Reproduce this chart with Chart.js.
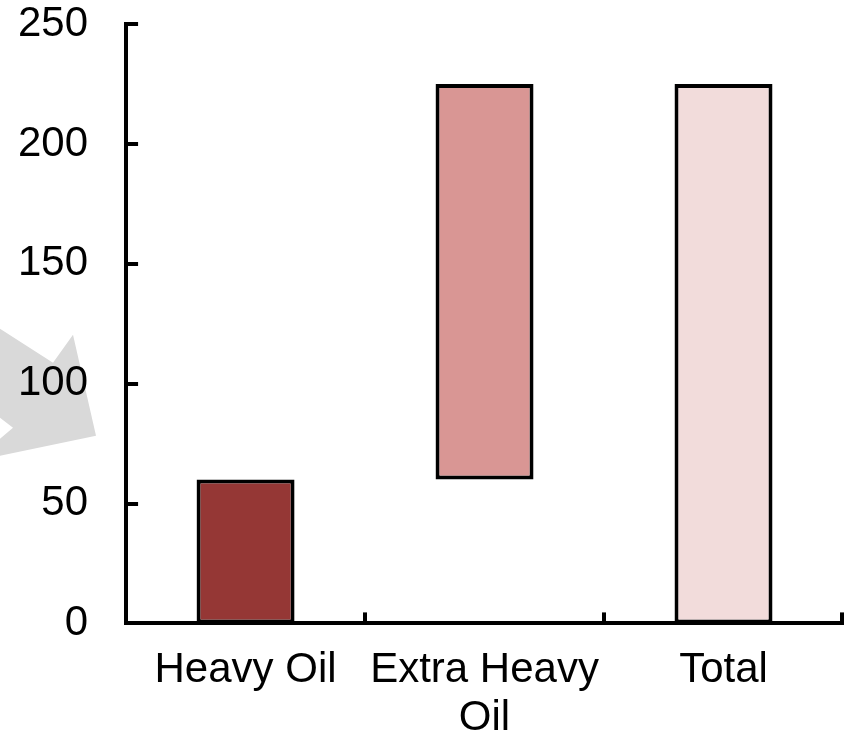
<!DOCTYPE html>
<html>
<head>
<meta charset="utf-8">
<style>
  html, body { margin: 0; padding: 0; background: #ffffff; }
  #wrap { width: 844px; height: 743px; }
</style>
<script src="https://cdn.jsdelivr.net/npm/chart.js@4/dist/chart.umd.min.js"></script>
</head>
<body>
<div id="wrap"><canvas id="chart" width="844" height="743"></canvas></div>
<script>
// Categories (multi-line labels as arrays)
const categories = [['Heavy Oil'], ['Extra Heavy', 'Oil'], ['Total']];
// Waterfall bars: each bar floats from its start to its end value
const barStarts = [0, 60, 0];
const barEnds = [60, 225, 225];
// Y axis range and step
const yMin = 0;
const yMax = 250;
const yStep = 50;

const barColors = ['#953735', '#D99694', '#F2DCDB'];
const FONT = '"Liberation Sans", Arial, Helvetica, sans-serif';
const LINE_W = 4;

// Light grey arrow sitting behind the y-axis labels, anchored to the value-100 line
const arrowPlugin = {
  id: 'arrowBehind',
  beforeDraw(chart) {
    const { ctx, scales: { y } } = chart;
    const oy = y.getPixelForValue(100); // reference line for the shape
    const pts = [
      [0, -55], [53, -21], [73, -49], [96, 52], [0, 72], [0, 55], [13, 44], [0, 34]
    ];
    ctx.save();
    ctx.fillStyle = '#D9D9D9';
    ctx.beginPath();
    pts.forEach((p, i) => {
      if (i === 0) ctx.moveTo(p[0], oy + p[1]);
      else ctx.lineTo(p[0], oy + p[1]);
    });
    ctx.closePath();
    ctx.fill();
    ctx.restore();
  }
};

// Inward-pointing tick marks on both axes
const innerTicksPlugin = {
  id: 'innerTicks',
  afterDraw(chart) {
    const { ctx, chartArea, scales: { x, y } } = chart;
    ctx.save();
    ctx.strokeStyle = '#000000';
    ctx.lineWidth = LINE_W;
    ctx.lineCap = 'butt';
    y.ticks.forEach((t, i) => {
      const py = Math.round(y.getPixelForTick(i));
      ctx.beginPath();
      ctx.moveTo(chartArea.left, py);
      ctx.lineTo(chartArea.left + 12, py);
      ctx.stroke();
    });
    const n = categories.length;
    const w = (chartArea.right - chartArea.left) / n;
    for (let i = 1; i <= n; i++) {
      let px = Math.round(chartArea.left + i * w);
      if (i === n) px = Math.min(px, chart.width - 2);
      ctx.beginPath();
      ctx.moveTo(px, chartArea.bottom);
      ctx.lineTo(px, chartArea.bottom - 11);
      ctx.stroke();
    }
    ctx.restore();
  }
};

new Chart(document.getElementById('chart'), {
  type: 'bar',
  data: {
    labels: categories,
    datasets: [{
      data: barStarts.map((s, i) => [s, barEnds[i]]),
      backgroundColor: barColors,
      borderColor: '#000000',
      borderWidth: LINE_W,
      borderSkipped: false,
      barPercentage: 0.41,
      categoryPercentage: 1.0
    }]
  },
  options: {
    responsive: false,
    animation: false,
    devicePixelRatio: 1,
    layout: { padding: { left: 18, right: 1, top: 0, bottom: 0 } },
    plugins: {
      legend: { display: false },
      tooltip: { enabled: false }
    },
    scales: {
      x: {
        // hidden grid keeps its tick length as spacing between axis and labels
        grid: { display: false, drawTicks: true, tickLength: 23 },
        border: { display: true, color: '#000000', width: LINE_W },
        ticks: {
          color: '#000000',
          padding: 0,
          maxRotation: 0,
          autoSkip: false,
          font: { family: FONT, size: 42, lineHeight: 1.15 }
        }
      },
      y: {
        min: yMin,
        max: yMax,
        grid: { display: false, drawTicks: true, tickLength: 38 },
        border: { display: true, color: '#000000', width: LINE_W },
        ticks: {
          stepSize: yStep,
          color: '#000000',
          padding: 0,
          font: { family: FONT, size: 42, lineHeight: 1.15 }
        }
      }
    }
  },
  plugins: [arrowPlugin, innerTicksPlugin]
});
</script>
</body>
</html>
